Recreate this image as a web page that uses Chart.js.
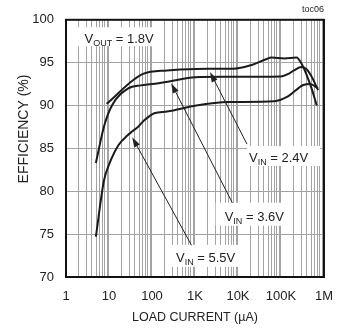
<!DOCTYPE html>
<html>
<head>
<meta charset="utf-8">
<script src="https://cdn.jsdelivr.net/npm/chart.js@4.4.1/dist/chart.umd.min.js"></script>
<style>
  html, body { margin: 0; padding: 0; background: #fff; }
  #chart { display: block; }
</style>
</head>
<body>
<canvas id="chart" width="345" height="331"></canvas>
<script>
// load current in uA, efficiency in %
const vin24Current = [8.8, 62, 226, 450, 2000, 8000, 20000, 45000, 60000, 120000, 230000, 300000, 400000, 515000, 680000];
const vin24Eff     = [90.2, 93.7, 94.1, 94.2, 94.3, 94.3, 94.7, 95.4, 95.6, 95.5, 95.6, 94.9, 93.5, 92.0, 90.0];

const vin36Current = [4.95, 7.6, 11.7, 28, 55, 100, 250, 1000, 5000, 100000, 150000, 200000, 300000, 400000, 500000, 730000];
const vin36Eff     = [83.3, 87.5, 90.0, 92.0, 92.35, 92.5, 92.8, 93.3, 93.35, 93.4, 93.7, 94.1, 94.5, 94.2, 93.5, 91.8];

const vin55Current = [4.95, 7.6, 10, 16.7, 28, 35, 47, 67, 113, 225, 1070, 6000, 70000, 138000, 333000, 476000, 730000];
const vin55Eff     = [74.7, 81.2, 83.1, 85.4, 86.6, 87.0, 87.5, 88.3, 89.1, 89.3, 90.0, 90.4, 90.5, 91.0, 92.4, 92.5, 92.0];

const xTickValues = [1, 10, 100, 1e3, 1e4, 1e5, 1e6];
const xTickLabels = ['1', '10', '100', '1K', '10K', '100K', '1M'];
const yMin = 70;
const yMax = 100;
const yStep = 5;

// annotation text, placed in data coordinates (text start, text middle)
const noteSub  = ['OUT', 'IN', 'IN', 'IN'];
const noteRest = [' = 1.8V', ' = 2.4V', ' = 3.6V', ' = 5.5V'];
const noteX    = [2.7, 18000, 4900, 361];
const noteY    = [97.85, 84.0, 77.15, 72.35];

// arrows: tail -> tip, data coordinates
const arrowFromX = [16200, 7400, 830];
const arrowFromY = [85.5, 78.65, 73.7];
const arrowToX   = [2240, 279, 34.7];
const arrowToY   = [93.9, 92.6, 86.3];

const FONT = "'Liberation Sans', Arial, Helvetica, sans-serif";
const TEXT = '#222';
const GRID = '#a3a3a3';

// white boxes behind the labels, pixels around the text
const notePad = [
    { l: 19, r: 8, t: 11, b: 8 },
    { l: 2, r: 12, t: 11, b: 9 },
    { l: 9, r: 5, t: 13, b: 10 },
    { l: 4, r: 10, t: 12, b: 10 }
];

const toPoints = (xs, ys) => xs.map((x, i) => ({ x: x, y: ys[i] }));

function lineSet(label, xs, ys) {
    return {
        label: label,
        data: toPoints(xs, ys),
        borderColor: '#1b1b1b',
        borderWidth: 2,
        pointRadius: 0,
        fill: false,
        cubicInterpolationMode: 'monotone'
    };
}

const notesPlugin = {
    id: 'notes',
    beforeDatasetsDraw(chart) {
        const ctx = chart.ctx;
        const sx = chart.scales.x;
        const sy = chart.scales.y;
        ctx.save();
        noteSub.forEach((sub, i) => {
            const px = sx.getPixelForValue(noteX[i]);
            const py = sy.getPixelForValue(noteY[i]);
            ctx.font = '13px ' + FONT;
            const wV = ctx.measureText('V').width;
            const wRest = ctx.measureText(noteRest[i]).width;
            ctx.font = '9px ' + FONT;
            const wSub = ctx.measureText(sub).width;
            const p = notePad[i];
            ctx.fillStyle = '#fff';
            ctx.fillRect(px - p.l, py - p.t, wV + wSub + wRest + p.l + p.r, p.t + p.b);

            const base = py + 5;
            ctx.fillStyle = TEXT;
            ctx.textBaseline = 'alphabetic';
            ctx.textAlign = 'left';
            ctx.font = '13px ' + FONT;
            ctx.fillText('V', px, base);
            ctx.font = '9px ' + FONT;
            ctx.fillText(sub, px + wV, base + 3);
            ctx.font = '13px ' + FONT;
            ctx.fillText(noteRest[i], px + wV + wSub, base);
        });
        ctx.restore();
    },
    afterDatasetsDraw(chart) {
        const ctx = chart.ctx;
        const sx = chart.scales.x;
        const sy = chart.scales.y;
        const area = chart.chartArea;
        ctx.save();

        // arrows
        ctx.strokeStyle = '#222';
        ctx.fillStyle = '#222';
        ctx.lineWidth = 1;
        arrowFromX.forEach((fx, i) => {
            const x0 = sx.getPixelForValue(fx);
            const y0 = sy.getPixelForValue(arrowFromY[i]);
            const x1 = sx.getPixelForValue(arrowToX[i]);
            const y1 = sy.getPixelForValue(arrowToY[i]);
            const ang = Math.atan2(y1 - y0, x1 - x0);
            const len = 10, half = 3.2;
            const bx = x1 - len * Math.cos(ang);
            const by = y1 - len * Math.sin(ang);
            ctx.beginPath();
            ctx.moveTo(x0, y0);
            ctx.lineTo(bx, by);
            ctx.stroke();
            ctx.beginPath();
            ctx.moveTo(x1, y1);
            ctx.lineTo(bx + half * Math.sin(ang), by - half * Math.cos(ang));
            ctx.lineTo(bx - half * Math.sin(ang), by + half * Math.cos(ang));
            ctx.closePath();
            ctx.fill();
        });

        // frame
        ctx.strokeStyle = '#111';
        ctx.lineWidth = 2;
        ctx.strokeRect(area.left, area.top, area.right - area.left, area.bottom - area.top);

        // y title, sits a bit above the middle of the plot
        ctx.fillStyle = TEXT;
        ctx.font = '14px ' + FONT;
        ctx.textAlign = 'center';
        ctx.textBaseline = 'middle';
        ctx.translate(24, 129);
        ctx.rotate(-Math.PI / 2);
        ctx.fillText('EFFICIENCY (%)', 0, 0);
        ctx.setTransform(1, 0, 0, 1, 0, 0);

        // figure tag
        ctx.font = '9px ' + FONT;
        ctx.textAlign = 'right';
        ctx.fillText('toc06', area.right, 10);
        ctx.restore();
    }
};

const ctx = document.getElementById('chart').getContext('2d');

new Chart(ctx, {
    type: 'line',
    data: {
        datasets: [
            lineSet('VIN = 2.4V', vin24Current, vin24Eff),
            lineSet('VIN = 3.6V', vin36Current, vin36Eff),
            lineSet('VIN = 5.5V', vin55Current, vin55Eff)
        ]
    },
    options: {
        responsive: false,
        animation: false,
        devicePixelRatio: 1,
        layout: { padding: { top: 17, right: 14, left: 0, bottom: 0 } },
        plugins: {
            legend: { display: false },
            tooltip: { enabled: false }
        },
        scales: {
            x: {
                type: 'logarithmic',
                min: xTickValues[0],
                max: xTickValues[xTickValues.length - 1],
                afterBuildTicks: (scale) => {
                    const ticks = [];
                    xTickValues.forEach((d, i) => {
                        if (i === xTickValues.length - 1) {
                            ticks.push({ value: d });
                            return;
                        }
                        for (let m = 1; m < 10; m++) ticks.push({ value: d * m });
                    });
                    scale.ticks = ticks;
                },
                afterFit: (scale) => { scale.height = 54; },
                grid: { color: GRID, lineWidth: 1, drawTicks: false },
                border: { display: false },
                ticks: {
                    autoSkip: false,
                    maxRotation: 0,
                    padding: 12,
                    color: TEXT,
                    font: { family: FONT, size: 13 },
                    callback: (value) => {
                        const i = xTickValues.indexOf(value);
                        return i >= 0 ? xTickLabels[i] : '';
                    }
                },
                title: {
                    display: true,
                    text: 'LOAD CURRENT (\u00b5A)',
                    color: TEXT,
                    font: { family: FONT, size: 12.5 },
                    padding: { top: 0, bottom: 6 }
                }
            },
            y: {
                min: yMin,
                max: yMax,
                afterFit: (scale) => { scale.width = 66; },
                grid: { color: GRID, lineWidth: 1, drawTicks: false },
                border: { display: false },
                ticks: {
                    stepSize: yStep,
                    padding: 12,
                    color: TEXT,
                    font: { family: FONT, size: 13 }
                }
            }
        }
    },
    plugins: [notesPlugin]
});
</script>
</body>
</html>
